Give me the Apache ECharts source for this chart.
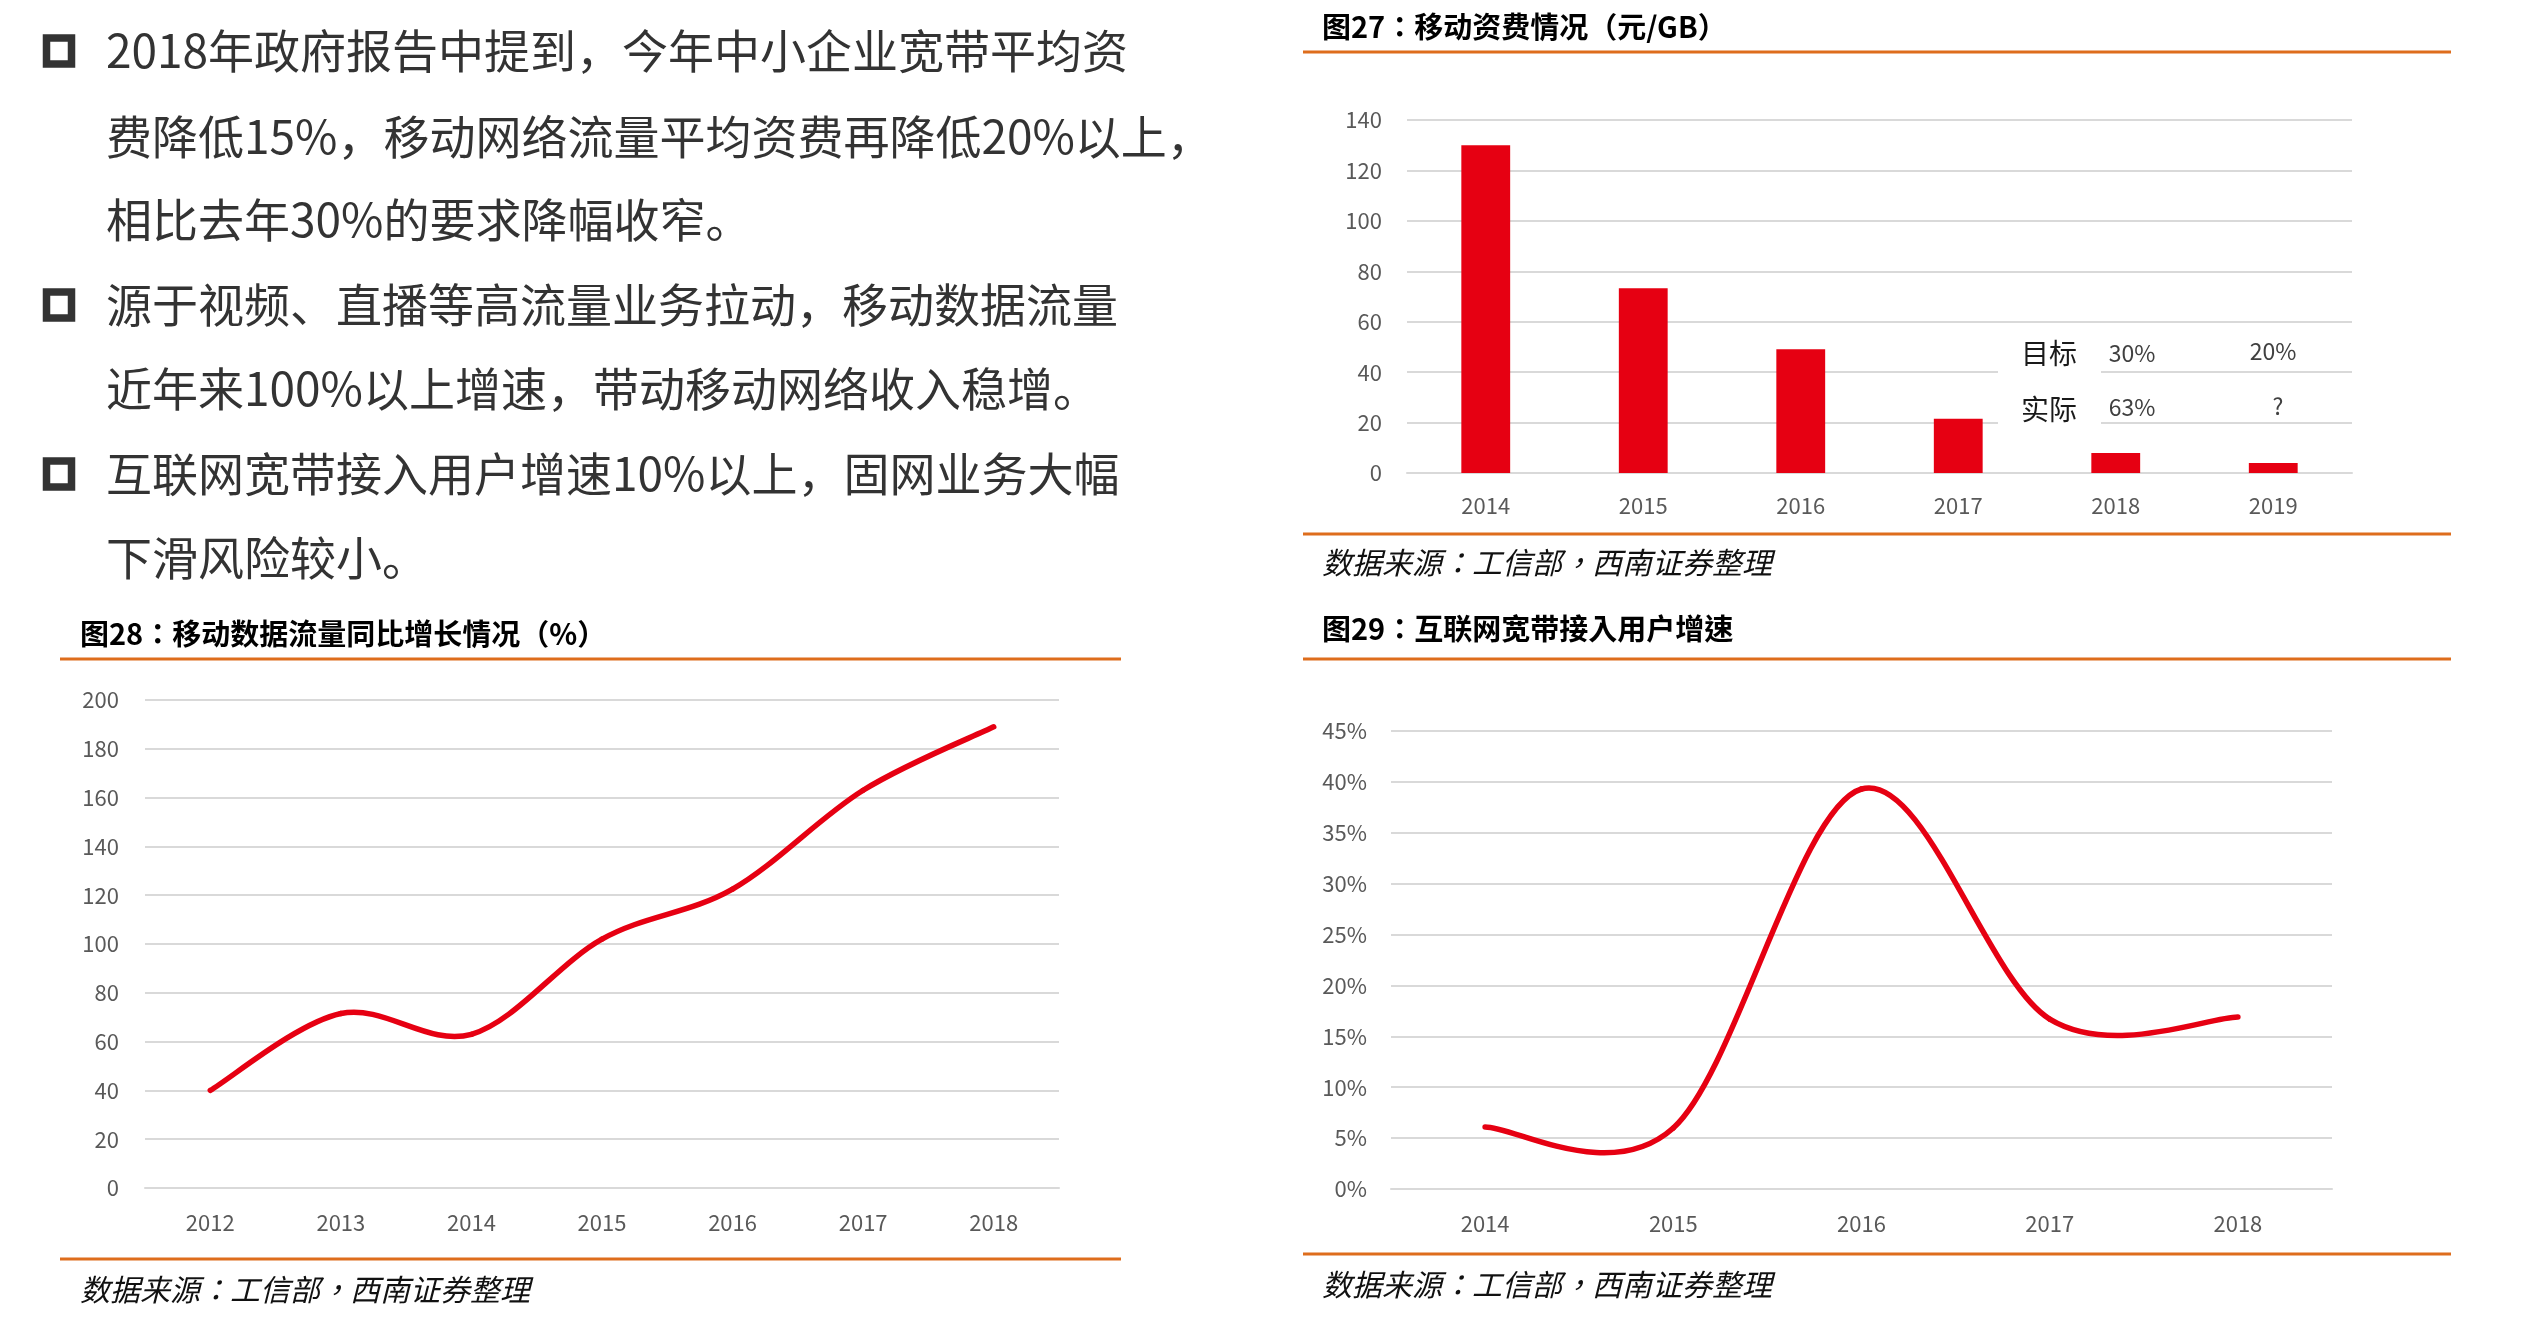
<!DOCTYPE html>
<html>
<head>
<meta charset="utf-8">
<script src="https://cdn.jsdelivr.net/npm/echarts@6/dist/echarts.min.js"></script>
<style>
  html, body { margin: 0; padding: 0; background: #fff; }
  #main { width: 2528px; height: 1322px; }
</style>
</head>
<body>
<div id="main"></div>
<script>
// 图27 移动资费
const feeYears = ['2014', '2015', '2016', '2017', '2018', '2019'];
const feeValues = [130, 73.3, 49.1, 21.5, 7.9, 4.0];
const feeTicks = [0, 20, 40, 60, 80, 100, 120, 140];

// 图28 移动数据流量同比增长
const trafficYears = ['2012', '2013', '2014', '2015', '2016', '2017', '2018'];
const trafficGrowth = [40, 71.5, 63, 102, 122.5, 163, 189];

// 图29 互联网宽带接入用户增速
const broadbandYears = ['2014', '2015', '2016', '2017', '2018'];
const broadbandGrowth = [6.1, 6.0, 39.3, 16.7, 16.9];

const bodyLines = [
  '2018年政府报告中提到，今年中小企业宽带平均资',
  '费降低15%，移动网络流量平均资费再降低20%以上，',
  '相比去年30%的要求降幅收窄。',
  '源于视频、直播等高流量业务拉动，移动数据流量',
  '近年来100%以上增速，带动移动网络收入稳增。',
  '互联网宽带接入用户增速10%以上，固网业务大幅',
  '下滑风险较小。'
];
const bodyLineY = [51, 137, 220, 305, 389, 474, 558];
const bulletLines = [0, 3, 5];

const RED = '#E60012';
const ORANGE = '#DE6D1C';
const GRID = '#D9D9D9';
const LABEL = '#595959';
const FONT = '"Noto Sans CJK SC", "Noto Sans", sans-serif';
// 标题和来源里的全角标点居中显示
const FONT_PUNCT = '"Noto Sans CJK TC", "Noto Sans CJK SC", sans-serif';

const chart = echarts.init(document.getElementById('main'));

function txt(text, x, y, size, opts) {
  opts = opts || {};
  return {
    type: 'text',
    z: 20,
    style: {
      text: text,
      x: x,
      y: y,
      fill: opts.color || '#333',
      fontSize: size,
      fontFamily: opts.family || FONT,
      fontWeight: opts.weight || 'normal',
      fontStyle: opts.style || 'normal',
      align: opts.align || 'left',
      textAlign: opts.align || 'left',
      verticalAlign: 'middle',
      textVerticalAlign: 'middle'
    }
  };
}

function hline(x1, x2, y) {
  return {
    type: 'line',
    z: 20,
    shape: { x1: x1, y1: y, x2: x2, y2: y },
    style: { stroke: ORANGE, lineWidth: 3 }
  };
}

// Excel 风格的平滑折线：相邻点的切线取 (后点-前点)/6，经由坐标轴换算成像素
function excelSmooth(values) {
  return function (params, api) {
    if (params.dataIndex !== 0) return null;
    const pts = values.map(function (v, i) { return api.coord([i, v]); });
    const children = [];
    for (let i = 0; i < pts.length - 1; i++) {
      const p0 = pts[i - 1] || pts[i];
      const p1 = pts[i];
      const p2 = pts[i + 1];
      const p3 = pts[i + 2] || pts[i + 1];
      children.push({
        type: 'bezierCurve',
        shape: {
          x1: p1[0], y1: p1[1],
          cpx1: p1[0] + (p2[0] - p0[0]) / 6, cpy1: p1[1] + (p2[1] - p0[1]) / 6,
          cpx2: p2[0] - (p3[0] - p1[0]) / 6, cpy2: p2[1] - (p3[1] - p1[1]) / 6,
          x2: p2[0], y2: p2[1]
        },
        style: { stroke: RED, lineWidth: 5.5, fill: null, lineCap: 'round' }
      });
    }
    return { type: 'group', children: children };
  };
}

const graphics = [];

// 左上正文
bodyLines.forEach(function (line, i) {
  graphics.push(txt(line, 106, bodyLineY[i], 46, { color: '#333' }));
});
bulletLines.forEach(function (i) {
  graphics.push({
    type: 'rect',
    z: 20,
    shape: { x: 46.5, y: bodyLineY[i] - 13, width: 25, height: 26 },
    style: { fill: 'none', stroke: '#333', lineWidth: 7.5 }
  });
});

// 标题、分隔线、来源
const srcText = '数据来源：工信部，西南证券整理';
graphics.push(txt('图27：移动资费情况（元/GB）', 1322, 27, 29, { color: '#000', weight: 'bold', family: FONT_PUNCT }));
graphics.push(hline(1303, 2451, 52));
graphics.push(hline(1303, 2451, 534));
graphics.push(txt(srcText, 1322, 563, 30, { color: '#111', style: 'italic', family: FONT_PUNCT }));

graphics.push(txt('图28：移动数据流量同比增长情况（%）', 80, 634, 29, { color: '#000', weight: 'bold', family: FONT_PUNCT }));
graphics.push(hline(60, 1121, 659));
graphics.push(hline(60, 1121, 1259));
graphics.push(txt(srcText, 80, 1290, 30, { color: '#111', style: 'italic', family: FONT_PUNCT }));

graphics.push(txt('图29：互联网宽带接入用户增速', 1322, 629, 29, { color: '#000', weight: 'bold', family: FONT_PUNCT }));
graphics.push(hline(1303, 2451, 659));
graphics.push(hline(1303, 2451, 1254));
graphics.push(txt(srcText, 1322, 1285, 30, { color: '#111', style: 'italic', family: FONT_PUNCT }));

// 图27 注释框
graphics.push({
  type: 'rect',
  z: 15,
  shape: { x: 1998, y: 335, width: 103, height: 105 },
  style: { fill: '#fff' }
});
graphics.push(txt('目标', 2049, 353, 28, { color: '#1a1a1a', align: 'center' }));
graphics.push(txt('实际', 2049, 409, 28, { color: '#1a1a1a', align: 'center' }));
graphics.push(txt('30%', 2132, 353, 23, { color: '#404040', align: 'center' }));
graphics.push(txt('63%', 2132, 407, 23, { color: '#404040', align: 'center' }));
graphics.push(txt('20%', 2273, 351, 23, { color: '#404040', align: 'center' }));
graphics.push(txt('?', 2278, 406, 23, { color: '#404040', align: 'center' }));

function catAxis(gridIndex, data, margin) {
  return {
    type: 'category',
    gridIndex: gridIndex,
    data: data,
    boundaryGap: true,
    axisLine: { show: true, lineStyle: { color: GRID, width: 2 } },
    axisTick: { show: false },
    axisLabel: { color: LABEL, fontSize: 22, fontFamily: FONT, margin: margin }
  };
}

function valAxis(gridIndex, max, interval, margin, fmt) {
  return {
    type: 'value',
    gridIndex: gridIndex,
    min: 0,
    max: max,
    interval: interval,
    axisLine: { show: false },
    axisTick: { show: false },
    splitLine: { lineStyle: { color: GRID, width: 2 } },
    axisLabel: { color: LABEL, fontSize: 22, fontFamily: FONT, margin: margin, formatter: fmt || '{value}' }
  };
}

const option = {
  backgroundColor: '#ffffff',
  animation: false,
  grid: [
    { left: 1407, top: 120, width: 945, height: 353 },
    { left: 145, top: 700, width: 914, height: 488 },
    { left: 1391, top: 731, width: 941, height: 458 }
  ],
  xAxis: [
    catAxis(0, feeYears, 22),
    catAxis(1, trafficYears, 24),
    catAxis(2, broadbandYears, 24)
  ],
  yAxis: [
    valAxis(0, feeTicks[feeTicks.length - 1], 20, 25),
    valAxis(1, 200, 20, 26),
    valAxis(2, 45, 5, 24, '{value}%')
  ],
  series: [
    {
      name: '移动资费',
      type: 'bar',
      xAxisIndex: 0,
      yAxisIndex: 0,
      data: feeValues,
      barWidth: '31%',
      itemStyle: { color: RED }
    },
    {
      name: '移动数据流量同比增长',
      type: 'custom',
      xAxisIndex: 1,
      yAxisIndex: 1,
      data: trafficGrowth.map(function (v, i) { return [i, v]; }),
      encode: { x: 0, y: 1 },
      renderItem: excelSmooth(trafficGrowth),
      z: 3
    },
    {
      name: '互联网宽带接入用户增速',
      type: 'custom',
      xAxisIndex: 2,
      yAxisIndex: 2,
      data: broadbandGrowth.map(function (v, i) { return [i, v]; }),
      encode: { x: 0, y: 1 },
      renderItem: excelSmooth(broadbandGrowth),
      z: 3
    }
  ],
  graphic: graphics
};

chart.setOption(option);
</script>
</body>
</html>
